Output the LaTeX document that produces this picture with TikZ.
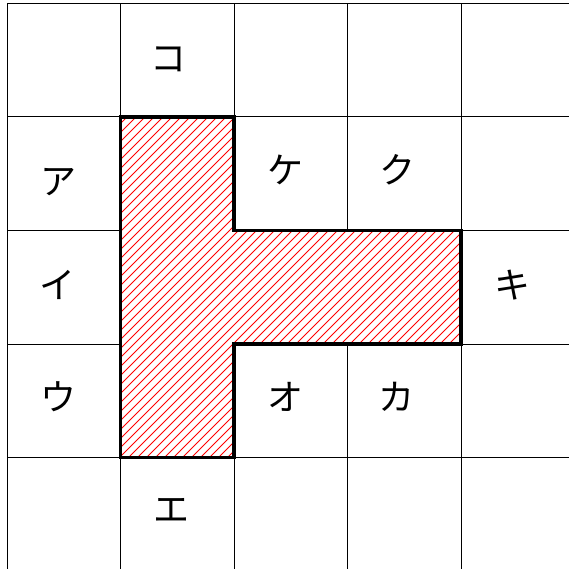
\documentclass[tikz,border=0pt]{standalone}
\usepackage{fontspec}
\newfontfamily\cjk{Noto Sans CJK JP}
\tikzset{
  gridline/.style={line width=1pt, black},
  hatchline/.style={line width=1pt, red},
  outline/.style={line width=3.5pt, black, line join=miter},
  kana/.style={inner sep=0pt, font=\cjk\fontsize{36}{40}\selectfont}
}
\begin{document}
\begin{tikzpicture}[x=1pt,y=-1pt]
\fill[white] (0,0) rectangle (569,569);
\useasboundingbox (0,0) rectangle (569,569);
\begin{scope}
\clip (0,0) rectangle (569,569);
\foreach \k in {0,...,5} {
  \draw[gridline] ({7+113.5*\k},3.5) -- ({7+113.5*\k},600);
  \draw[gridline] (7,{3.5+113.5*\k}) -- (600,{3.5+113.5*\k});
}
\end{scope}
% hatched shape
\coordinate (p1) at (120.5,117);
\coordinate (p2) at (234,117);
\coordinate (p3) at (234,230.5);
\coordinate (p4) at (461,230.5);
\coordinate (p5) at (461,344);
\coordinate (p6) at (234,344);
\coordinate (p7) at (234,457.5);
\coordinate (p8) at (120.5,457.5);
\fill[white] (p1) -- (p2) -- (p3) -- (p4) -- (p5) -- (p6) -- (p7) -- (p8) -- cycle;
\begin{scope}
\clip (p1) -- (p2) -- (p3) -- (p4) -- (p5) -- (p6) -- (p7) -- (p8) -- cycle;
\foreach \c in {-500,-491,...,600} {
  \draw[hatchline] (\c,600) -- ({\c+600},0);
}
\end{scope}
\draw[outline] (p1) -- (p2) -- (p3) -- (p4) -- (p5) -- (p6) -- (p7) -- (p8) -- cycle;
% labels
\node[kana] (ko) at (168,59) {コ};
\node[kana] (a) at (58,182) {ア};
\node[kana] (i) at (57,285) {イ};
\node[kana] (u) at (58,397) {ウ};
\node[kana] (e) at (171,510) {エ};
\node[kana] (ke) at (285,170) {ケ};
\node[kana] (ku) at (397,170) {ク};
\node[kana] (ki) at (512,285) {キ};
\node[kana] (o) at (285,397) {オ};
\node[kana] (ka) at (396,397) {カ};
\end{tikzpicture}
\end{document}
